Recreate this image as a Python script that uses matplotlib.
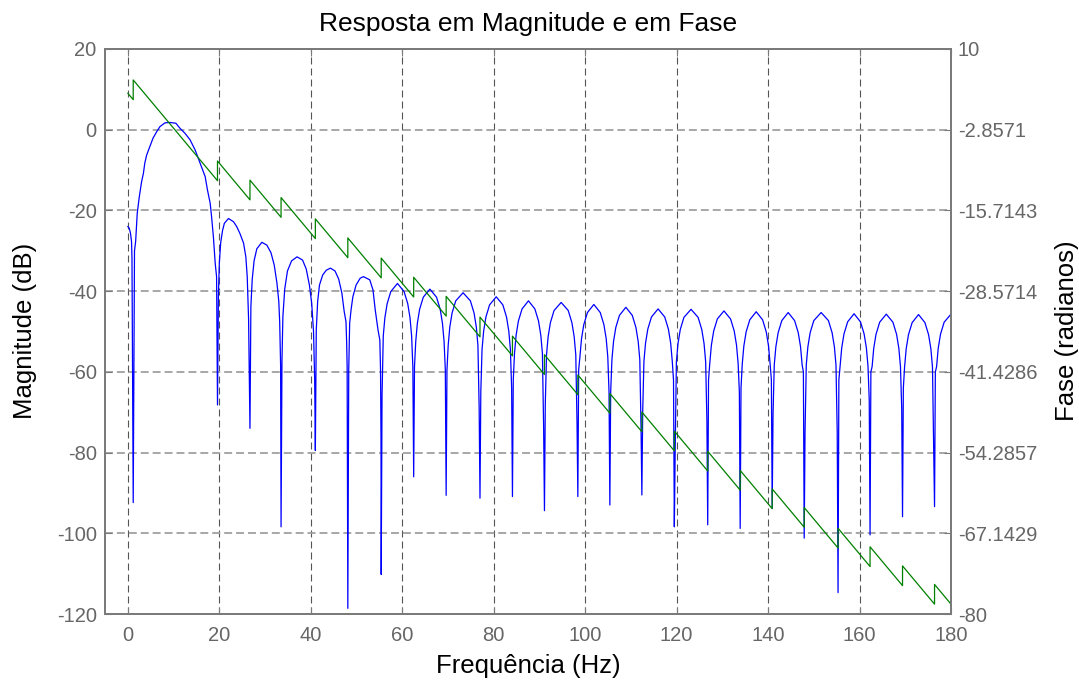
import matplotlib
matplotlib.use('Agg')
import matplotlib.pyplot as plt

plt.rcParams['font.family'] = ['Liberation Sans', 'DejaVu Sans']
plt.rcParams['axes.unicode_minus'] = False

# ---------------- data ----------------
title_text = 'Resposta em Magnitude e em Fase'
x_label = 'Frequência (Hz)'
left_label = 'Magnitude (dB)'
right_label = 'Fase (radianos)'

x_ticks = [0, 20, 40, 60, 80, 100, 120, 140, 160, 180]
mag_ticks = [20, 0, -20, -40, -60, -80, -100, -120]
phase_ticks = [10, -2.8571, -15.7143, -28.5714, -41.4286, -54.2857, -67.1429, -80]
phase_tick_labels = ['10', '-2.8571', '-15.7143', '-28.5714', '-41.4286',
                     '-54.2857', '-67.1429', '-80']

# magnitude response (Hz, dB), lobe by lobe
mag_freq_hz = [
    0.0, 0.3, 0.58, 0.8, 0.9, 1.17, 1.45, 1.7, 2.05, 2.5, 3.0, 3.4, 3.7, 4.1, 4.8, 5.5, 6.3, 7.0,
    8.1, 9.2, 10.5, 11.4, 12.5, 13.6, 14.7, 15.4, 16.1, 16.9, 17.4, 18.0, 18.3, 18.7, 19.1, 19.4, 19.6,
    19.8, 20.0, 20.3, 20.7, 21.1, 22.0, 23.1, 23.8, 24.5, 25.3, 25.8, 26.1, 26.4, 26.7,
    26.9, 27.2, 27.6, 28.2, 29.3, 30.4, 31.3, 32.0, 32.6, 33.0, 33.2, 33.4, 33.5,
    33.7, 33.9, 34.3, 34.9, 35.8, 37.0, 38.2, 39.0, 39.7, 40.2, 40.6, 40.85, 41.0,
    41.2, 41.5, 41.9, 42.6, 43.4, 44.3, 45.3, 46.1, 46.8, 47.3, 47.7, 47.85, 47.95, 48.1,
    48.3, 48.5, 48.8, 49.2, 49.9, 50.8, 51.5, 52.9, 53.6, 54.1, 54.7, 55.1, 55.25, 55.35, 55.4,
    55.58, 55.85, 56.2, 56.7, 57.5, 58.95, 60.4, 61.2, 61.7, 62.05, 62.32, 62.5,
    62.68, 62.95, 63.3, 63.8, 64.6, 66.05, 67.5, 68.3, 68.8, 69.15, 69.42, 69.6,
    69.78, 70.05, 70.4, 70.9, 71.7, 73.3, 74.9, 75.7, 76.2, 76.55, 76.82, 77.0,
    77.18, 77.45, 77.8, 78.3, 79.1, 80.55, 82.0, 82.8, 83.3, 83.65, 83.92, 84.1,
    84.28, 84.55, 84.9, 85.4, 86.2, 87.6, 89.0, 89.8, 90.3, 90.65, 90.92, 91.1,
    91.28, 91.55, 91.9, 92.4, 93.2, 94.75, 96.3, 97.1, 97.6, 97.95, 98.22, 98.4,
    98.58, 98.85, 99.2, 99.7, 100.5, 101.9, 103.3, 104.1, 104.6, 104.95, 105.22, 105.4,
    105.58, 105.85, 106.2, 106.7, 107.5, 108.9, 110.3, 111.1, 111.6, 111.95, 112.22, 112.4,
    112.58, 112.85, 113.2, 113.7, 114.5, 115.95, 117.4, 118.2, 118.7, 119.05, 119.32, 119.5,
    119.68, 119.95, 120.3, 120.8, 121.6, 123.15, 124.7, 125.5, 126.0, 126.35, 126.62, 126.8,
    126.98, 127.25, 127.6, 128.1, 128.9, 130.35, 131.8, 132.6, 133.1, 133.45, 133.72, 133.9,
    134.08, 134.35, 134.7, 135.2, 136.0, 137.4, 138.8, 139.6, 140.1, 140.45, 140.72, 140.9,
    141.08, 141.35, 141.7, 142.2, 143.0, 144.4, 145.8, 146.6, 147.1, 147.45, 147.72, 147.9,
    148.08, 148.35, 148.7, 149.2, 150.0, 151.6, 153.2, 154.0, 154.5, 154.85, 155.12, 155.3,
    155.48, 155.75, 156.1, 156.6, 157.4, 158.8, 160.2, 161.0, 161.5, 161.85, 162.12, 162.3,
    162.48, 162.75, 163.1, 163.6, 164.4, 165.85, 167.3, 168.1, 168.6, 168.95, 169.22, 169.4,
    169.58, 169.85, 170.2, 170.7, 171.5, 172.9, 174.3, 175.1, 175.6, 175.95, 176.22, 176.4,
    176.58, 176.85, 177.2, 177.7, 178.5, 180.0,
]
mag_db = [
    -24.0, -24.4, -25.7, -27.7, -32.0, -92.4, -30.0, -27.7, -20.7, -16.6, -12.9, -10.8, -8.3, -6.3, -4.2, -2.1, -0.5, 0.75,
    1.7, 1.8, 1.6, 0.35, -0.9, -2.5, -5.0, -7.1, -9.2, -11.6, -14.9, -18.2, -21.5, -26.5, -33.1, -36.4, -68.2,
    -41.0, -33.0, -28.0, -25.0, -23.2, -22.0, -22.8, -24.0, -25.7, -28.1, -31.5, -36.4, -47.0, -74.0,
    -43.8, -37.0, -32.5, -29.5, -27.9, -28.6, -30.5, -33.5, -38.0, -42.5, -47.6, -58.3, -98.4,
    -57.1, -46.3, -39.5, -35.0, -32.5, -31.5, -32.3, -34.5, -38.5, -43.0, -50.0, -62.0, -79.5,
    -49.6, -42.6, -38.5, -36.0, -34.8, -34.3, -35.0, -37.0, -40.5, -45.0, -47.6, -52.9, -58.7, -118.6,
    -59.5, -48.0, -44.7, -41.4, -38.5, -36.8, -36.4, -37.2, -39.7, -44.7, -49.6, -52.1, -59.5, -76.1, -110.2,
    -66.0, -51.1, -46.6, -43.1, -40.1, -38.1, -40.1, -43.1, -46.6, -51.1, -58.7, -86.0,
    -58.7, -52.5, -48.0, -44.5, -41.5, -39.5, -41.5, -44.5, -48.0, -52.5, -59.5, -90.6,
    -59.5, -53.4, -48.9, -45.4, -42.4, -40.4, -42.4, -45.4, -48.9, -53.4, -69.0, -91.3,
    -65.0, -54.4, -49.9, -46.4, -43.4, -41.4, -43.4, -46.4, -49.9, -54.4, -64.0, -90.9,
    -62.0, -55.4, -50.9, -47.4, -44.4, -42.4, -44.4, -47.4, -50.9, -55.4, -74.0, -94.4,
    -68.0, -55.8, -51.3, -47.8, -44.8, -42.8, -44.8, -47.8, -51.3, -55.8, -72.7, -90.9,
    -59.5, -56.3, -51.8, -48.3, -45.3, -43.3, -45.3, -48.3, -51.8, -56.3, -65.0, -93.0,
    -65.0, -57.0, -52.5, -49.0, -46.0, -44.0, -46.0, -49.0, -52.5, -57.0, -74.0, -90.5,
    -70.0, -57.4, -52.9, -49.4, -46.4, -44.4, -46.4, -49.4, -52.9, -57.4, -62.0, -98.4,
    -80.0, -57.5, -53.0, -49.5, -46.5, -44.5, -46.5, -49.5, -53.0, -57.5, -72.0, -97.9,
    -62.0, -57.9, -53.4, -49.9, -46.9, -44.9, -46.9, -49.9, -53.4, -57.9, -65.0, -98.8,
    -64.0, -58.1, -53.6, -50.1, -47.1, -45.1, -47.1, -50.1, -53.6, -58.1, -62.0, -93.8,
    -70.7, -58.3, -53.8, -50.3, -47.3, -45.3, -47.3, -50.3, -53.8, -58.3, -60.0, -101.2,
    -75.0, -58.3, -53.8, -50.3, -47.3, -45.3, -47.3, -50.3, -53.8, -58.3, -75.0, -114.7,
    -62.0, -58.6, -54.1, -50.6, -47.6, -45.6, -47.6, -50.6, -54.1, -58.6, -67.0, -100.4,
    -60.0, -58.7, -54.2, -50.7, -47.7, -45.7, -47.7, -50.7, -54.2, -58.7, -69.0, -95.9,
    -64.0, -58.8, -54.3, -50.8, -47.8, -45.8, -47.8, -50.8, -54.3, -58.8, -80.0, -93.4,
    -60.0, -58.7, -54.2, -50.7, -47.7, -45.7,
]

# phase response (Hz, rad): straight runs with +pi jumps at the nulls
phase_freq_hz = [
    0.0, 1.17, 1.17, 19.6, 19.6, 26.7, 26.7, 33.5, 33.5, 41.0, 41.0, 48.1, 48.1,
    55.4, 55.4, 62.5, 62.5, 69.6, 69.6, 77.0, 77.0, 84.1, 84.1, 91.1, 91.1,
    98.4, 98.4, 105.4, 105.4, 112.4, 112.4, 119.5, 119.5, 126.8, 126.8,
    133.9, 133.9, 140.9, 140.9, 147.9, 147.9, 155.3, 155.3, 162.3, 162.3,
    169.4, 169.4, 176.4, 176.4, 180.0,
]
phase_rad = [
    2.95, 1.93, 5.07, -10.98, -7.84, -14.03, -10.89, -16.81, -13.67, -20.20, -17.06, -23.24, -20.10,
    -26.45, -23.31, -29.50, -26.36, -32.54, -29.40, -35.85, -32.71, -38.88, -35.74, -41.84, -38.70,
    -45.06, -41.92, -48.01, -44.87, -50.97, -47.83, -54.01, -50.87, -57.22, -54.08,
    -60.27, -57.13, -63.22, -60.08, -66.18, -63.04, -69.49, -66.35, -72.44, -69.30,
    -75.48, -72.34, -78.43, -75.29, -78.43,
]

# ---------------- drawing ----------------
W, H = 1079, 684
tick_grey = '#666666'
spine_grey = '#7a7a7a'
tick_fs = 14.5
label_fs = 18.5
title_fs = 19

fig = plt.figure(figsize=(W / 100, H / 100), dpi=100)
ax1 = fig.add_axes([105 / W, 1 - 614 / H, 846 / W, 565 / H])
ax1.plot(mag_freq_hz, mag_db, color='#0000ff', lw=0.9, zorder=3)
ax1.set_xlim(-5, 180)
ax1.set_ylim(-120, 20)
ax1.set_xticks(x_ticks)
ax1.set_yticks(mag_ticks)

ax1.xaxis.grid(True, color='#555555', lw=0.8, linestyle=(0, (6.3, 3.6)))
ax1.yaxis.grid(True, color='#a0a0a0', lw=1.3, linestyle=(0, (4.4, 2.2)))

ax1.tick_params(axis='both', direction='in', length=5, width=0.8,
                colors=spine_grey, labelcolor=tick_grey, labelsize=tick_fs)
ax1.tick_params(axis='x', top=True, pad=8.5)
ax1.tick_params(axis='y', pad=6)
for s in ax1.spines.values():
    s.set_color(spine_grey)
    s.set_linewidth(1.3)

ax2 = ax1.twinx()
ax2.plot(phase_freq_hz, phase_rad, color='#008000', lw=0.9)
ax2.set_ylim(-80, 10)
ax2.set_yticks(phase_ticks)
ax2.set_yticklabels(phase_tick_labels)
ax2.tick_params(axis='y', direction='in', length=5, width=0.8,
                colors=spine_grey, labelcolor=tick_grey, labelsize=tick_fs, pad=5)
for s in ax2.spines.values():
    s.set_color(spine_grey)
    s.set_linewidth(1.3)

# title and axis labels placed by their baselines
fig.text(528 / W, 1 - 31.5 / H, title_text, fontsize=title_fs, color='black',
         ha='center', va='baseline')
fig.text(528 / W, 1 - 673 / H, x_label, fontsize=label_fs, color='black',
         ha='center', va='baseline')
fig.text(32 / W, 1 - 331 / H, left_label, fontsize=label_fs, color='black',
         rotation=90, rotation_mode='anchor', ha='center', va='baseline')
fig.text(1074 / W, 1 - 331 / H, right_label, fontsize=label_fs, color='black',
         rotation=90, rotation_mode='anchor', ha='center', va='baseline')

fig.savefig('out.png', dpi=100)
